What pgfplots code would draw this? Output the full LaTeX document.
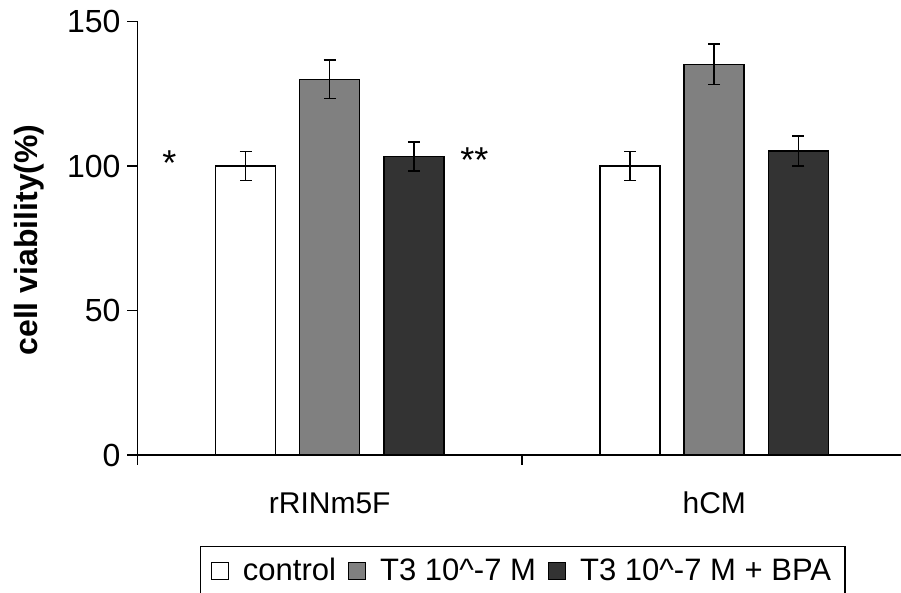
\documentclass[border=0pt]{standalone}
\usepackage{fontspec}
\setmainfont{Liberation Sans}
\usepackage{pgfplots}
\pgfplotsset{compat=1.18}

\definecolor{barmid}{RGB}{128,128,128}
\definecolor{bardark}{RGB}{51,51,51}

\pgfplotsset{
  mybar/.style={
    ybar, bar width=30pt, bar shift=0pt, draw=black, line width=0.75pt,
    legend image code/.code={\draw[##1,line width=0.6pt] (0pt,-4.25pt) rectangle (8.5pt,4.25pt);},
    error bars/y dir=both, error bars/y explicit,
    error bars/error bar style={line width=0.75pt, black},
    error bars/error mark options={rotate=90, mark size=3pt, line width=0.75pt, black},
  },
}

\begin{document}
\begin{tikzpicture}[font=\fontsize{15}{18}\selectfont]
\begin{axis}[
    at={(0,0)}, anchor=south west,
    scale only axis,
    width=381.75pt, height=216.75pt,
    xmin=0, xmax=1.9857,
    ymin=0, ymax=150,
    axis x line=bottom, axis y line=left,
    axis line style={-, line width=0.75pt},
    xtick={0,1}, xticklabels={},
    ytick={0,50,100,150},
    yticklabel style={font=\fontsize{16}{19}\selectfont},
    tick align=outside,
    major tick length=5pt,
    tick style={black, line width=0.75pt},
    /pgf/number format/assume math mode=true,
    extra x ticks={0.5,1.5},
    extra x tick labels={rRINm5F,hCM},
    extra x tick style={major tick length=0pt,
      tick label style={anchor=base, yshift=-29.5pt}},
    ylabel={\textbf{cell viability(\%)}},
    ylabel style={at={(axis description cs:-0.1415,0.496)}, anchor=center,
      font=\fontsize{16}{19}\selectfont},
    legend columns=3,
    legend style={at={(axis description cs:0.08186,-0.2092)}, anchor=north west,
      draw=black, line width=0.75pt, inner xsep=5pt, inner ysep=4pt,
      font=\fontsize{15.5}{18}\selectfont,
      /tikz/every odd column/.append style={column sep=5pt},
      /tikz/every even column/.append style={column sep=4pt}},
]
\addplot[mybar, fill=white] coordinates {
  (0.281,100) +- (0,5)
  (1.281,100) +- (0,5)
};
\addplot[mybar, fill=barmid] coordinates {
  (0.5,130) +- (0,6.7)
  (1.5,135.2) +- (0,7)
};
\addplot[mybar, fill=bardark] coordinates {
  (0.719,103.3) +- (0,5)
  (1.719,105.2) +- (0,5.2)
};
\legend{control, T3 10\textasciicircum-7 M, T3 10\textasciicircum-7 M + BPA}
\node[anchor=base, font=\fontsize{18}{20}\selectfont] at (axis cs:0.0832,96.6) {*};
\node[anchor=base, font=\fontsize{18}{20}\selectfont] at (axis cs:0.876,97.8) {**};
\end{axis}
\pgfresetboundingbox
\path[use as bounding box] (-68.75pt,-69pt) rectangle (381.75pt,227.5pt);
\end{tikzpicture}
\end{document}
